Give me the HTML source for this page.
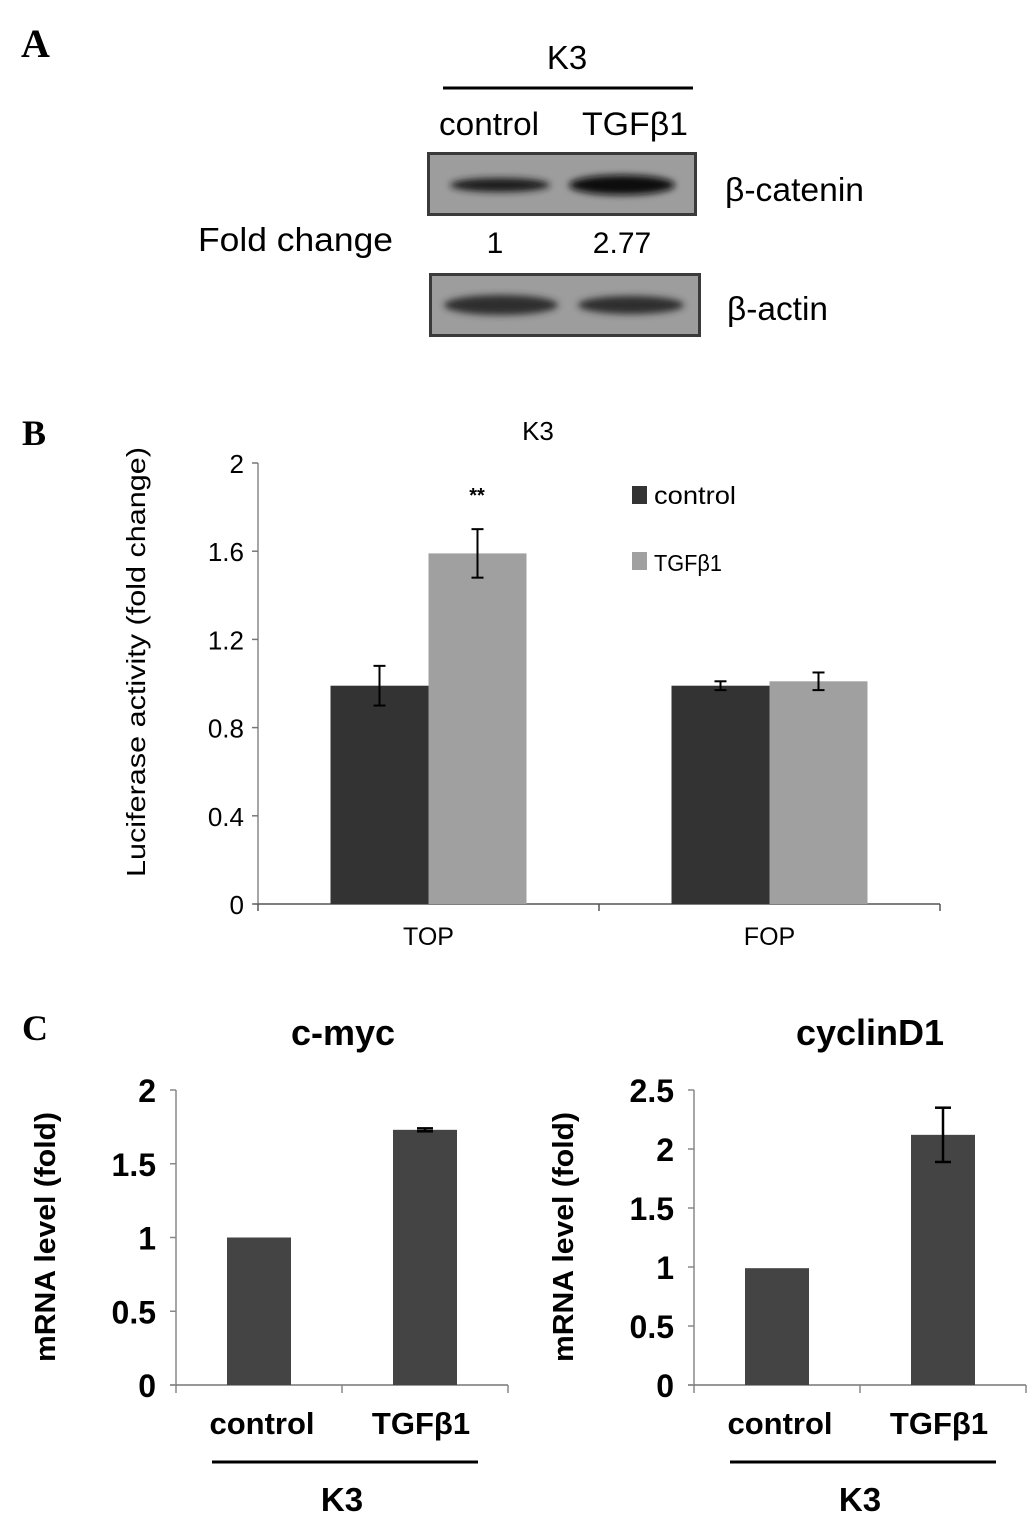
<!DOCTYPE html>
<html><head><meta charset="utf-8"><style>
html,body{margin:0;padding:0;background:#fff}
svg{display:block}
</style></head><body>
<svg id="fig" width="1033" height="1519" viewBox="0 0 1033 1519" xmlns="http://www.w3.org/2000/svg" font-family="Liberation Sans, sans-serif">
<defs>
<filter id="blur" x="-20%" y="-100%" width="140%" height="300%"><feGaussianBlur stdDeviation="3.5"/></filter>
</defs>
<!-- Panel A -->
<text x="21" y="57" style="font-family:'Liberation Serif',serif" font-weight="bold" font-size="40">A</text>
<text x="567" y="69" font-size="33" text-anchor="middle">K3</text>
<line x1="443" y1="88" x2="693" y2="88" stroke="#000" stroke-width="3"/>
<text x="489" y="135" font-size="32" text-anchor="middle" textLength="100" lengthAdjust="spacingAndGlyphs">control</text>
<text x="635" y="135" font-size="32" text-anchor="middle" textLength="106" lengthAdjust="spacingAndGlyphs">TGFβ1</text>
<g>
<rect x="428.5" y="153.5" width="267" height="61" fill="#9d9d9d" stroke="#3a3a3a" stroke-width="3"/>
<ellipse cx="500" cy="185" rx="50" ry="7" fill="#1a1a1a" filter="url(#blur)"/>
<ellipse cx="622" cy="185" rx="53" ry="10" fill="#0a0a0a" filter="url(#blur)"/>
</g>
<text x="725" y="201" font-size="33" textLength="139" lengthAdjust="spacingAndGlyphs">β-catenin</text>
<text x="198" y="251" font-size="33" textLength="195" lengthAdjust="spacingAndGlyphs">Fold change</text>
<text x="495" y="253" font-size="30" text-anchor="middle">1</text>
<text x="622" y="253" font-size="30" text-anchor="middle">2.77</text>
<g>
<rect x="430.5" y="274.5" width="269" height="61" fill="#9d9d9d" stroke="#3a3a3a" stroke-width="3"/>
<ellipse cx="501" cy="305" rx="57" ry="10" fill="#2e2e2e" filter="url(#blur)"/>
<ellipse cx="631" cy="305" rx="53" ry="9" fill="#2e2e2e" filter="url(#blur)"/>
</g>
<text x="727" y="320" font-size="33" textLength="101" lengthAdjust="spacingAndGlyphs">β-actin</text>

<!-- Panel B -->
<text x="22" y="445" style="font-family:'Liberation Serif',serif" font-weight="bold" font-size="36">B</text>
<text x="538" y="440" font-size="26" text-anchor="middle">K3</text>
<text transform="translate(145,662) rotate(-90)" font-size="26" text-anchor="middle" textLength="430" lengthAdjust="spacingAndGlyphs">Luciferase activity (fold change)</text>
<g id="chartB"></g>
<g>
<rect x="632" y="486" width="15" height="18" fill="#333"/>
<text x="654" y="504" font-size="25" textLength="82" lengthAdjust="spacingAndGlyphs">control</text>
<rect x="632" y="552" width="15" height="18" fill="#a0a0a0"/>
<text x="654" y="571" font-size="23" textLength="68" lengthAdjust="spacingAndGlyphs">TGFβ1</text>
</g>
<text x="477" y="502" font-size="20" font-weight="bold" text-anchor="middle">**</text>

<!-- Panel C -->
<text x="22" y="1040" style="font-family:'Liberation Serif',serif" font-weight="bold" font-size="36">C</text>
<g id="chartC1"></g>
<g id="chartC2"></g>
</svg>
<script>
const NS="http://www.w3.org/2000/svg";
// Panel B data
const bCategories=["TOP","FOP"];
const bControl=[0.99,0.99];
const bControlErr=[0.09,0.02];
const bTgf=[1.59,1.01];
const bTgfErr=[0.11,0.04];
const bTicks=[0,0.4,0.8,1.2,1.6,2];
const bTickLabels=["0","0.4","0.8","1.2","1.6","2"];
// Panel C data
const cCategories=["control","TGFβ1"];
const cmycValues=[1.0,1.73];
const cmycErr=[0,0.01];
const cmycTicks=[0,0.5,1,1.5,2];
const cmycTickLabels=["0","0.5","1","1.5","2"];
const cycValues=[0.99,2.12];
const cycErr=[0,0.23];
const cycTicks=[0,0.5,1,1.5,2,2.5];
const cycTickLabels=["0","0.5","1","1.5","2","2.5"];

function mk(tag,attrs,parent,txt){const e=document.createElementNS(NS,tag);for(const k in attrs)e.setAttribute(k,attrs[k]);if(txt!==undefined)e.textContent=txt;parent.appendChild(e);return e;}

function errBar(g,x,y0,y1,cap,w){
  const l=mk("line",{x1:x,y1:y0,x2:x,y2:y1,stroke:"#000","stroke-width":w},g);
  
  
  mk("line",{x1:x-cap,y1:y0,x2:x+cap,y2:y0,stroke:"#000","stroke-width":w},g);
  mk("line",{x1:x-cap,y1:y1,x2:x+cap,y2:y1,stroke:"#000","stroke-width":w},g);
}

// Chart B
(function(){
  const g=document.getElementById("chartB");
  const x0=258,x1=940,yB=904,yT=463,max=2;
  const y=v=>yB-(v/max)*(yB-yT);
  const cw=(x1-x0)/bCategories.length;
  const cx=i=>x0+cw*(i+0.5);
  const bw=98;
  mk("line",{x1:x0,y1:yT,x2:x0,y2:yB,stroke:"#888","stroke-width":1.5},g);
  mk("line",{x1:x0-5,y1:yB,x2:x1,y2:yB,stroke:"#555","stroke-width":1.5},g);
  bTicks.forEach((t,i)=>{
    mk("line",{x1:x0-6,y1:y(t),x2:x0,y2:y(t),stroke:"#777","stroke-width":1.5},g);
    const tx=mk("text",{x:x0-14,y:y(t)+10,"font-size":26,"text-anchor":"end"},g,bTickLabels[i]);
    
    
  });
  for(let i=0;i<=bCategories.length;i++){
    mk("line",{x1:x0+cw*i,y1:yB,x2:x0+cw*i,y2:yB+7,stroke:"#555","stroke-width":1.5},g);
  }
  bCategories.forEach((c,i)=>{
    const r1=mk("rect",{x:cx(i)-bw,y:y(bControl[i]),width:bw,height:yB-y(bControl[i]),fill:"#333"},g);
    
    
    const r2=mk("rect",{x:cx(i),y:y(bTgf[i]),width:bw,height:yB-y(bTgf[i]),fill:"#a0a0a0"},g);
    
    
    errBar(g,cx(i)-bw/2,y(bControl[i]+bControlErr[i]),y(bControl[i]-bControlErr[i]),6,2);
    errBar(g,cx(i)+bw/2,y(bTgf[i]+bTgfErr[i]),y(bTgf[i]-bTgfErr[i]),6,2);
    const t=mk("text",{x:cx(i),y:945,"font-size":25,"text-anchor":"middle"},g,c);
    
    
  });
})();

// Chart C
function chartC(id,x0,x1,title,titleX,vals,errs,ticks,labels,max){
  const g=document.getElementById(id);
  const yB=1385,yT=1090;
  const y=v=>yB-(v/max)*(yB-yT);
  const cw=(x1-x0)/cCategories.length;
  const cx=i=>x0+cw*(i+0.5);
  const bw=64;
  const tt=mk("text",{x:titleX,y:1045,"font-size":36,"font-weight":"bold","text-anchor":"middle"},g,title);
  
  
  const yt=mk("text",{transform:`translate(${x0-121},1237) rotate(-90)`,"font-size":29,"font-weight":"bold","text-anchor":"middle",textLength:250,lengthAdjust:"spacingAndGlyphs"},g,"mRNA level (fold)");
  
  
  mk("line",{x1:x0,y1:yT,x2:x0,y2:yB+8,stroke:"#888","stroke-width":1.5},g);
  mk("line",{x1:x0-6,y1:yB,x2:x1,y2:yB,stroke:"#777","stroke-width":1.5},g);
  ticks.forEach((t,i)=>{
    mk("line",{x1:x0-6,y1:y(t),x2:x0,y2:y(t),stroke:"#888","stroke-width":1.5},g);
    const tx=mk("text",{x:x0-20,y:y(t)+12,"font-size":32,"font-weight":"bold","text-anchor":"end"},g,labels[i]);
    
    
  });
  for(let i=1;i<=cCategories.length;i++){
    mk("line",{x1:x0+cw*i,y1:yB,x2:x0+cw*i,y2:yB+8,stroke:"#888","stroke-width":1.5},g);
  }
  cCategories.forEach((c,i)=>{
    const r=mk("rect",{x:cx(i)-bw/2,y:y(vals[i]),width:bw,height:yB-y(vals[i]),fill:"#444"},g);
    
    
    if(errs[i]>0) errBar(g,cx(i),y(vals[i]+errs[i]),y(vals[i]-errs[i]),8,2.5);
    const t=mk("text",{x:cx(i)+(i?-4:3),y:1434,"font-size":31,"font-weight":"bold","text-anchor":"middle"},g,c);
    
    
  });
  const ln=mk("line",{x1:x0+36,y1:1462,x2:x1-30,y2:1462,stroke:"#000","stroke-width":3},g);
  
  
  const k=mk("text",{x:(x0+x1)/2,y:1511,"font-size":33,"font-weight":"bold","text-anchor":"middle"},g,"K3");
  
  
}
chartC("chartC1",176,508,"c-myc",343,cmycValues,cmycErr,cmycTicks,cmycTickLabels,2);
chartC("chartC2",694,1026,"cyclinD1",870,cycValues,cycErr,cycTicks,cycTickLabels,2.5);
</script>
</body></html>
